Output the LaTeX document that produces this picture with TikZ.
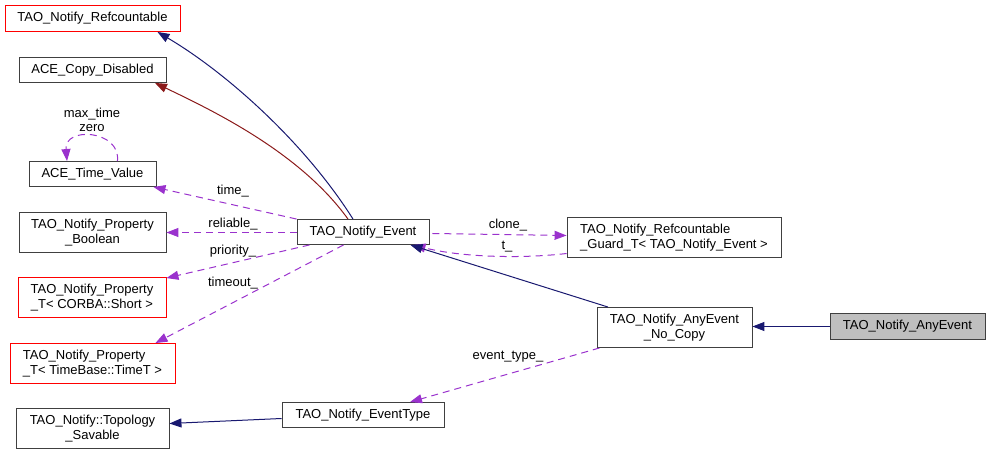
\documentclass[tikz,border=0pt]{standalone}
\usepackage{fontspec}
\setmainfont{Liberation Sans}
\usepackage{tikz}
\usetikzlibrary{arrows.meta}
\definecolor{inhblue}{HTML}{191970}
\definecolor{protred}{HTML}{8B1A1A}
\definecolor{usepurple}{HTML}{9A32CD}
\definecolor{boxgray}{HTML}{BFBFBF}

\begin{document}
\begin{tikzpicture}[x=1pt,y=-1pt,
    cls/.style={draw=black!75, line width=0.9pt, fill=white, inner sep=0pt, align=center, font=\fontsize{13}{14.5}\selectfont},
    clsred/.style={cls, draw=red},
    clscur/.style={cls, fill=boxgray},
    tip/.style={-{Triangle[length=12pt,width=9pt]}},
    inh/.style={tip, draw=inhblue, line width=1pt},
    prot/.style={tip, draw=protred, line width=1pt},
    use/.style={tip, draw=usepurple, line width=1pt, dash pattern=on 7pt off 5pt},
    lbl/.style={inner sep=0pt, align=center, font=\fontsize{13}{14.5}\selectfont}]
    \useasboundingbox (0,0) rectangle (991,454);

    \node[clsred, minimum width=175pt, minimum height=26pt] (refc) at (92.5,18.5) {TAO\_Notify\_Refcountable};
    \node[cls, minimum width=147pt, minimum height=25pt] (copydis) at (92.5,70) {ACE\_Copy\_Disabled};
    \node[cls, minimum width=127pt, minimum height=25pt] (timeval) at (92.5,174) {ACE\_Time\_Value};
    \node[cls, minimum width=147pt, minimum height=40pt] (propbool) at (92.5,232.5) {TAO\_Notify\_Property\\\_Boolean};
    \node[clsred, minimum width=148pt, minimum height=40pt] (propshort) at (92,297.5) {TAO\_Notify\_Property\\\_T< CORBA::Short >};
    \node[clsred, minimum width=165pt, minimum height=40pt, align=left] (proptimet) at (92.5,363.5) {TAO\_Notify\_Property\\\_T< TimeBase::TimeT >};
    \node[cls, minimum width=153pt, minimum height=40pt] (topo) at (92.5,428.5) {TAO\_Notify::Topology\\\_Savable};
    \node[cls, minimum width=132pt, minimum height=25pt] (event) at (363,232) {TAO\_Notify\_Event};
    \node[cls, minimum width=214pt, minimum height=40pt, align=left] (guard) at (674,237.5) {TAO\_Notify\_Refcountable\\\_Guard\_T< TAO\_Notify\_Event >};
    \node[cls, minimum width=155pt, minimum height=40pt] (anynocopy) at (674.5,327.5) {TAO\_Notify\_AnyEvent\\\_No\_Copy};
    \node[cls, minimum width=162pt, minimum height=25pt] (eventtype) at (363,415) {TAO\_Notify\_EventType};
    \node[clscur, minimum width=155pt, minimum height=26pt] (anyevent) at (907.5,326.5) {TAO\_Notify\_AnyEvent};

    \draw[inh] ([xshift=-10pt]event.north) .. controls (305,143) and (227,73) .. ([xshift=65pt]refc.south);
    \draw[prot] ([xshift=-15pt]event.north) .. controls (301,154) and (218,113) .. ([xshift=62.5pt]copydis.south);

    \draw[use] (event.north west) -- ([xshift=-3pt]timeval.south east);
    \node[lbl] (ltime) at (233,191) {time\_};
    \draw[use] ([xshift=-39pt]timeval.north east) .. controls (121,130) and (64,126) .. ([xshift=-25.5pt]timeval.north);
    \node[lbl] (lloop) at (92,120) {max\_time\\zero};
    \draw[use] ([yshift=-0.5pt]event.west) -- ([yshift=-0.5pt]propbool.east |- event.west);
    \node[lbl] (lrel) at (233,224) {reliable\_};
    \draw[use] ([xshift=13pt]event.south west) -- ([yshift=-1pt]propshort.north east);
    \node[lbl] (lprio) at (233,251) {priority\_};
    \draw[use] ([xshift=47pt]event.south west) -- ([xshift=-20pt]proptimet.north east);
    \node[lbl] (ltout) at (233,283) {timeout\_};

    \draw[use] ([xshift=3pt,yshift=-1.5pt]event.east) -- ([yshift=2pt]guard.west);
    \node[lbl] (lclone) at (508,225) {clone\_};
    \draw[use] ([yshift=-16pt]guard.west) .. controls (520,259) and (460,257) .. ([xshift=-16pt]event.south east);
    \node[lbl] (lt) at (507,247) {t\_};

    \draw[inh] ([xshift=-66.5pt]anynocopy.north) -- ([xshift=-19pt]event.south east);
    \draw[inh] (anyevent.west) -- (anynocopy.east |- anyevent.west);
    \draw[use] ([xshift=3pt]anynocopy.south west) -- ([xshift=47pt]eventtype.north);
    \node[lbl] (levtype) at (508,357) {event\_type\_};
    \draw[inh] ([yshift=-3.5pt]eventtype.west) -- ([yshift=5pt]topo.east);
\end{tikzpicture}
\end{document}
